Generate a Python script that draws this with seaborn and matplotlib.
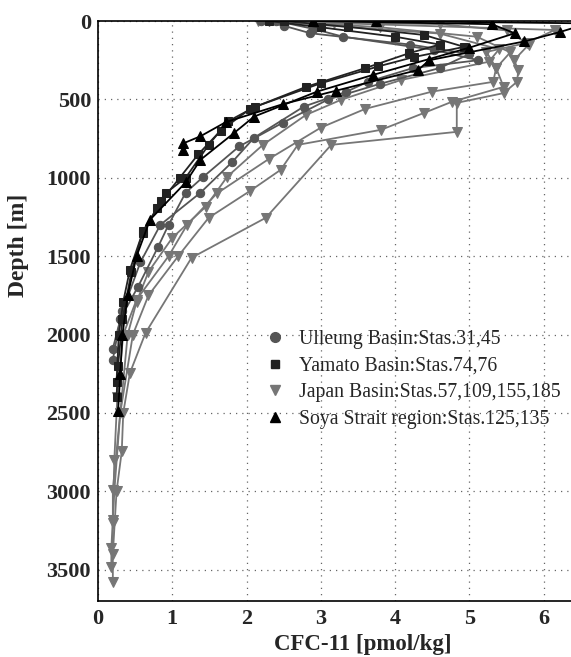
import numpy as np
import pandas as pd
import seaborn as sns
import matplotlib.pyplot as plt
from matplotlib.lines import Line2D

# CFC-11 profiles (pmol/kg) vs depth (m)
ulleung_31_depth = [0, 50, 100, 185, 250, 300, 388, 452, 546, 745, 898, 1095, 1300, 1540, 1850, 2090]
ulleung_31_cfc = [2.4, 2.9, 3.3, 4.53, 5.12, 4.24, 3.63, 3.34, 2.77, 2.1, 1.81, 1.38, 0.84, 0.57, 0.33, 0.2]
ulleung_45_depth = [0, 30, 78, 150, 210, 300, 400, 500, 648, 800, 993, 1095, 1300, 1440, 1694, 1900, 2160]
ulleung_45_cfc = [2.2, 2.5, 2.86, 4.2, 5.0, 4.6, 3.8, 3.1, 2.49, 1.9, 1.42, 1.18, 0.95, 0.81, 0.54, 0.3, 0.2]

yamato_74_depth = [0, 37, 89, 165, 230, 290, 397, 546, 640, 790, 1000, 1095, 1190, 1337, 1586, 1790, 2000, 2300]
yamato_74_cfc = [2.5, 3.36, 4.39, 4.93, 4.25, 3.77, 3.0, 2.12, 1.75, 1.49, 1.18, 0.92, 0.8, 0.61, 0.43, 0.34, 0.28, 0.25]
yamato_76_depth = [0, 40, 100, 150, 205, 300, 420, 560, 700, 850, 1000, 1150, 1350, 1600, 1900, 2200, 2400]
yamato_76_cfc = [2.3, 3.0, 4.0, 4.6, 4.19, 3.6, 2.8, 2.05, 1.65, 1.35, 1.1, 0.85, 0.6, 0.45, 0.33, 0.27, 0.25]

japan_57_depth = [0, 20, 60, 150, 250, 312, 388, 460, 522, 707, 790, 1255, 1510, 1990, 2245, 2500, 2745, 3000, 3400]
japan_57_cfc = [2.3, 4.6, 5.5, 5.8, 5.6, 5.66, 5.64, 5.46, 4.83, 4.83, 3.14, 2.26, 1.26, 0.64, 0.43, 0.34, 0.32, 0.25, 0.2]
japan_109_depth = [0, 40, 100, 200, 300, 420, 516, 586, 694, 790, 949, 1083, 1255, 1500, 1750, 2000, 2500, 2990, 3180, 3580]
japan_109_cfc = [2.46, 3.8, 5.1, 5.55, 5.36, 5.46, 4.76, 4.39, 3.81, 2.69, 2.46, 2.05, 1.49, 1.08, 0.68, 0.47, 0.3, 0.2, 0.2, 0.2]
japan_155_depth = [0, 25, 80, 180, 260, 376, 503, 599, 790, 993, 1185, 1383, 1600, 1790, 2000, 2500, 3000, 3360, 3480]
japan_155_cfc = [2.3, 3.0, 4.6, 5.4, 5.26, 4.08, 3.27, 2.8, 2.22, 1.74, 1.45, 1.0, 0.68, 0.52, 0.4, 0.3, 0.22, 0.18, 0.18]
japan_185_depth = [0, 13, 57, 140, 197, 300, 388, 450, 560, 680, 880, 1100, 1300, 1500, 1777, 2000, 2400, 2800, 3200]
japan_185_cfc = [2.16, 3.18, 6.15, 5.77, 5.23, 5.36, 5.32, 4.5, 3.6, 3.0, 2.3, 1.6, 1.2, 0.95, 0.52, 0.34, 0.26, 0.22, 0.2]

soya_125_depth = [0, 20, 78, 170, 344, 450, 610, 715, 885, 1030, 1268, 1500, 1750, 2000, 2250, 2490]
soya_125_cfc = [2.9, 5.3, 5.61, 5.0, 3.7, 2.95, 2.1, 1.83, 1.38, 1.18, 0.7, 0.52, 0.4, 0.33, 0.3, 0.27]
soya_135_depth = [0, 15, 70, 130, 250, 312, 445, 530, 645, 735, 780, 822]
soya_135_cfc = [3.74, 6.6, 6.22, 5.74, 4.46, 4.31, 3.2, 2.49, 1.72, 1.38, 1.15, 1.15]

regions = ["Ulleung Basin:Stas.31,45", "Yamato Basin:Stas.74,76",
           "Japan Basin:Stas.57,109,155,185", "Soya Strait region:Stas.125,135"]

rows = []
def add(region, station, cfc, depth):
    for c, d in zip(cfc, depth):
        rows.append({"region": region, "station": station, "cfc": c, "depth": d})

add(regions[0], 31, ulleung_31_cfc, ulleung_31_depth)
add(regions[0], 45, ulleung_45_cfc, ulleung_45_depth)
add(regions[1], 74, yamato_74_cfc, yamato_74_depth)
add(regions[1], 76, yamato_76_cfc, yamato_76_depth)
add(regions[2], 57, japan_57_cfc, japan_57_depth)
add(regions[2], 109, japan_109_cfc, japan_109_depth)
add(regions[2], 155, japan_155_cfc, japan_155_depth)
add(regions[2], 185, japan_185_cfc, japan_185_depth)
add(regions[3], 125, soya_125_cfc, soya_125_depth)
add(regions[3], 135, soya_135_cfc, soya_135_depth)
data = pd.DataFrame(rows)

colors = {regions[0]: "#555555", regions[1]: "#222222", regions[2]: "#767676", regions[3]: "#000000"}
markers = {regions[0]: "o", regions[1]: "s", regions[2]: "v", regions[3]: "^"}
msizes = {regions[0]: 6, regions[1]: 5.5, regions[2]: 6.5, regions[3]: 6.5}
leg_sizes = {regions[0]: 7, regions[1]: 6, regions[2]: 7.5, regions[3]: 7.5}
# draw order: gray first, black on top
order = [regions[2], regions[0], regions[1], regions[3]]

sns.set_style("white")
plt.rcParams['font.family'] = ['Liberation Serif', 'DejaVu Serif']

fig = plt.figure(figsize=(5.71, 6.57), dpi=100)
ax = fig.add_axes([0.1716, 0.0852, 0.83, 0.8828])

for r in order:
    sub = data[data["region"] == r]
    sns.lineplot(data=sub, x="cfc", y="depth", units="station", estimator=None,
                 sort=False, color=colors[r], marker=markers[r], markersize=msizes[r],
                 markeredgecolor=colors[r], linewidth=1.3, ax=ax, legend=False)

ax.set_xlim(0, 6.38)
ax.set_ylim(3700, 0)
ax.set_xticks([0, 1, 2, 3, 4, 5, 6])
ax.set_yticks([0, 500, 1000, 1500, 2000, 2500, 3000, 3500])
ax.grid(True, linestyle=(0, (1, 4)), color="#666666", linewidth=0.9)
ax.tick_params(direction="in", length=4, width=1, labelsize=16)
ax.tick_params(axis="x", pad=6)
ax.tick_params(axis="y", pad=5)
for lab in ax.get_xticklabels() + ax.get_yticklabels():
    lab.set_fontweight("bold")
for s in ["left", "bottom", "top"]:
    ax.spines[s].set_color("black")
    ax.spines[s].set_linewidth(1.2)
ax.spines["right"].set_visible(False)

ax.set_xlabel("CFC-11 [pmol/kg]", fontsize=16.5, fontweight="bold")
ax.set_ylabel("Depth [m]", fontsize=17, fontweight="bold")
ax.xaxis.set_label_coords(0.558, -0.057)
ax.yaxis.set_label_coords(-0.145, 0.614)

handles = [Line2D([], [], ls="none", marker=markers[r], color=colors[r], markersize=leg_sizes[r]) for r in regions]
ax.legend(handles, regions, loc="upper left", bbox_to_anchor=(0.321, 0.485), frameon=False,
          fontsize=14.2, handletextpad=0.5, labelspacing=0.4, borderpad=0, handlelength=1.5)

plt.savefig("out.png", dpi=100)
